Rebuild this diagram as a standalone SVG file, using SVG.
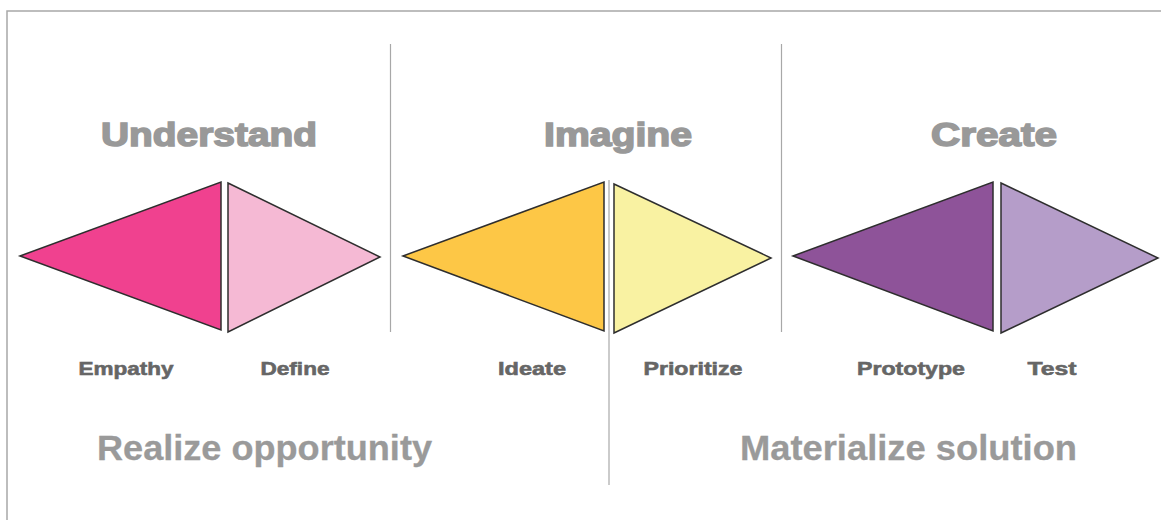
<svg xmlns="http://www.w3.org/2000/svg" width="1161" height="520" viewBox="0 0 1161 520">
  <style>
    text { font-family: "Liberation Sans", Arial, Helvetica, sans-serif; font-weight: bold; text-anchor: middle; }
    .head { font-size: 34px; fill: #999999; stroke: #999999; stroke-width: 1.6; }
    .lbl { font-size: 19px; fill: #666666; stroke: #666666; stroke-width: 0.6; }
    .sub { font-size: 35px; fill: #9a9a9a; stroke: #9a9a9a; stroke-width: 0.3; }
    .tri { stroke: #2e2e2e; stroke-width: 1.5; stroke-linejoin: miter; }
    .frame { stroke: #a8a8a8; stroke-width: 1.5; fill: none; }
    .div { stroke: #a8a8a8; stroke-width: 1.2; fill: none; }
  </style>
  <rect width="1161" height="520" fill="#ffffff"/>
  <g id="frame">
    <path class="frame" d="M7,520 V11 H1161"/>
  </g>
  <g id="connectors">
    <line class="div" x1="390.5" y1="44" x2="390.5" y2="332"/>
    <line class="div" x1="781.5" y1="44" x2="781.5" y2="332"/>
    <line class="div" x1="609" y1="180" x2="609" y2="485"/>
  </g>
  <g id="understand">
    <text class="head" x="209" y="146" textLength="216" lengthAdjust="spacingAndGlyphs">Understand</text>
    <g id="empathy">
      <polygon class="tri" fill="#f0418f" points="20,256 221,182 221,330"/>
      <text class="lbl" x="126" y="375" textLength="95" lengthAdjust="spacingAndGlyphs">Empathy</text>
    </g>
    <g id="define">
      <polygon class="tri" fill="#f5b9d4" points="228,183 380,257 228,332"/>
      <text class="lbl" x="295" y="375" textLength="69" lengthAdjust="spacingAndGlyphs">Define</text>
    </g>
  </g>
  <g id="imagine">
    <text class="head" x="618" y="146" textLength="148" lengthAdjust="spacingAndGlyphs">Imagine</text>
    <g id="ideate">
      <polygon class="tri" fill="#fdc746" points="403,256 604,182 604,331"/>
      <text class="lbl" x="532" y="375" textLength="68" lengthAdjust="spacingAndGlyphs">Ideate</text>
    </g>
    <g id="prioritize">
      <polygon class="tri" fill="#f9f2a2" points="614,184 771,258 614,333"/>
      <text class="lbl" x="693" y="375" textLength="99" lengthAdjust="spacingAndGlyphs">Prioritize</text>
    </g>
  </g>
  <g id="create">
    <text class="head" x="994" y="146" textLength="126" lengthAdjust="spacingAndGlyphs">Create</text>
    <g id="prototype">
      <polygon class="tri" fill="#8e5399" points="793,256 993,182 993,331"/>
      <text class="lbl" x="911" y="375" textLength="108" lengthAdjust="spacingAndGlyphs">Prototype</text>
    </g>
    <g id="test">
      <polygon class="tri" fill="#b59dc9" points="1001,183 1158,258 1001,333"/>
      <text class="lbl" x="1052" y="375" textLength="49" lengthAdjust="spacingAndGlyphs">Test</text>
    </g>
  </g>
  <g id="bottom">
    <text class="sub" x="264.5" y="460" textLength="335" lengthAdjust="spacingAndGlyphs">Realize opportunity</text>
    <text class="sub" x="908.5" y="460" textLength="337" lengthAdjust="spacingAndGlyphs">Materialize solution</text>
  </g>
</svg>
